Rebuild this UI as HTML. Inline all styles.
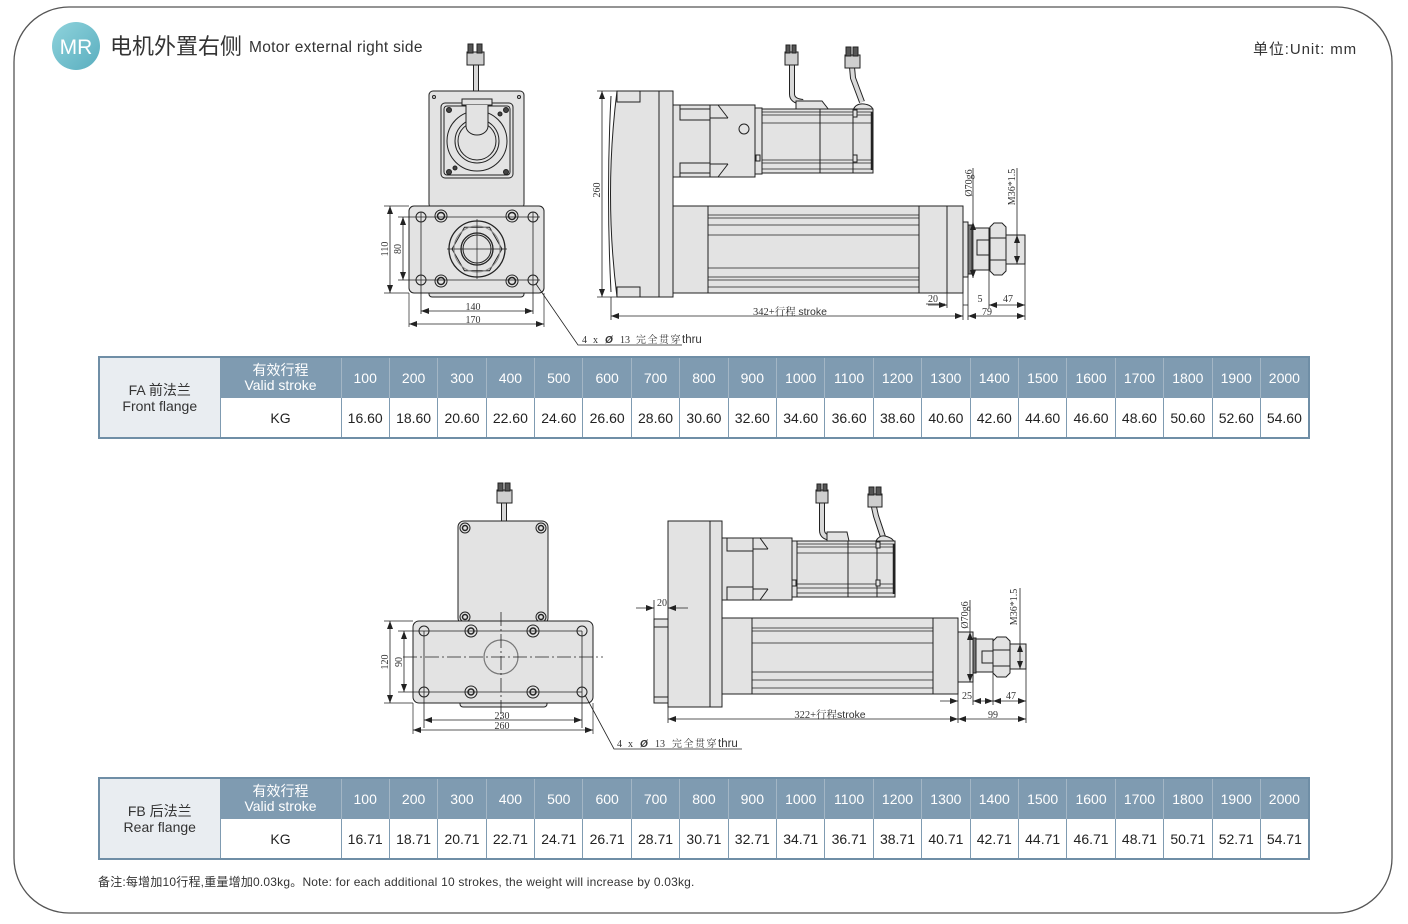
<!DOCTYPE html>
<html><head><meta charset="utf-8">
<style>
html,body{margin:0;padding:0;background:#fff;}
body{width:1408px;height:924px;position:relative;overflow:hidden;font-family:"Liberation Sans","Noto Sans CJK SC",sans-serif;color:#333;}
.abs{position:absolute;}
table.t{position:absolute;left:98px;width:1210px;border-collapse:collapse;table-layout:fixed;border:2px solid #6f8ea6;}
table.t td{padding:0;text-align:center;vertical-align:middle;overflow:hidden;white-space:nowrap;}
table.t tr.h td{background:#7f9bb1;color:#fff;height:39px;font-size:14px;border-left:1px solid #a3b6c5;}
table.t tr.d td{background:#fff;color:#222;height:39px;font-size:14px;border-left:1px solid #7f9bb1;border-top:1px solid #7f9bb1;}
table.t td.lab{background:#e9edf1 !important;color:#333 !important;font-size:13px;line-height:16px;border-right:1px solid #7f9bb1;}
table.t td.vs{font-size:13px;line-height:15px;}
</style></head><body>

<svg class="abs" style="left:0;top:0" width="1408" height="924" viewBox="0 0 1408 924">
<defs>
<marker id="a" viewBox="0 0 8 6" refX="8" refY="3" markerWidth="8" markerHeight="6" markerUnits="userSpaceOnUse" orient="auto-start-reverse"><path d="M0,0 L8,3 L0,6 z" fill="#222"/></marker>
<linearGradient id="g" x1="0" y1="0" x2="1" y2="1"><stop offset="0" stop-color="#8fd3dc"/><stop offset="1" stop-color="#5aaebf"/></linearGradient>
</defs>
<!-- frame -->
<rect x="14" y="7" width="1378" height="906" rx="55" ry="55" fill="none" stroke="#555" stroke-width="1.3"/>
<!-- header -->
<circle cx="76" cy="46" r="24" fill="url(#g)"/>
<text x="76" y="54" font-size="21" fill="#fff" text-anchor="middle" font-family="Liberation Sans, sans-serif">MR</text>
<text x="110" y="54" font-size="22" fill="#333" font-family="Liberation Sans, Noto Sans CJK SC, sans-serif">电机外置右侧</text>
<text x="249" y="52" font-size="15.5" letter-spacing="0.3" fill="#333" font-family="Liberation Sans, sans-serif">Motor external right side</text>
<text x="1253" y="54" font-size="15" letter-spacing="0.9" fill="#333" font-family="Liberation Sans, Noto Sans CJK SC, sans-serif">单位:Unit: mm</text>

<g stroke="#222" stroke-width="1" fill="#e3e3e3">
<!-- ===== TOP LEFT VIEW ===== -->
<path d="M476,64 V104" stroke="#222" stroke-width="6" fill="none"/>
<path d="M476,64 V104" stroke="#d8d8d8" stroke-width="4" fill="none"/>
<rect x="467" y="52" width="17" height="13" fill="#cfcfcf"/>
<rect x="468" y="44" width="5" height="9" fill="#555"/>
<rect x="477" y="44" width="5" height="9" fill="#555"/>
<rect x="429" y="91" width="95" height="117" rx="4"/>
<circle cx="434" cy="97" r="1.5" fill="none"/>
<circle cx="519" cy="97" r="1.5" fill="none"/>
<rect x="441" y="103" width="72" height="75" rx="4"/>
<rect x="444" y="106" width="66" height="69" rx="3"/>
<circle cx="477" cy="141" r="30"/>
<circle cx="477" cy="141" r="22"/>
<circle cx="477" cy="141" r="19"/>
<rect x="462" y="99" width="30" height="6"/>
<path d="M466,105 V126 A11,9 0 0 0 488,126 V105"/>
<circle cx="449" cy="110" r="2.5" fill="#444"/>
<circle cx="506" cy="110" r="2.5" fill="#444"/>
<circle cx="449" cy="172" r="2.5" fill="#444"/>
<circle cx="506" cy="172" r="2.5" fill="#444"/>
<circle cx="455" cy="168" r="2" fill="#444"/>
<circle cx="500" cy="114" r="2" fill="#444"/>
<rect x="429" y="288" width="95" height="9" rx="3"/>
<rect x="409" y="206" width="135" height="87" rx="5"/>
<g fill="none">
<circle cx="421" cy="217" r="5"/><circle cx="533" cy="217" r="5"/>
<circle cx="421" cy="280" r="5"/><circle cx="533" cy="280" r="5"/>
<circle cx="441" cy="216" r="6"/><circle cx="441" cy="216" r="3.5" stroke-width="1.5"/>
<circle cx="512" cy="216" r="6"/><circle cx="512" cy="216" r="3.5" stroke-width="1.5"/>
<circle cx="441" cy="281" r="6"/><circle cx="441" cy="281" r="3.5" stroke-width="1.5"/>
<circle cx="512" cy="281" r="6"/><circle cx="512" cy="281" r="3.5" stroke-width="1.5"/>
<circle cx="477" cy="249" r="28" stroke-width="1.3"/>
<polygon points="502,249 489.5,227.3 464.5,227.3 452,249 464.5,270.7 489.5,270.7"/>
<circle cx="477" cy="249" r="23" stroke="#888"/>
<circle cx="477" cy="249" r="16" stroke-width="1.3"/>
<circle cx="477" cy="249" r="14"/>
<path d="M447,249 H507 M477,219 V279" stroke-width="0.7"/>
<path d="M398,217 H540 M398,280 H540 M421,212 V314 M533,212 V314" stroke-width="0.8"/>
<path d="M384,206 H409 M384,293 H409 M409,293 V327 M544,293 V327" stroke-width="0.7"/>
</g>
<g fill="none" stroke-width="0.8">
<line x1="390" y1="206" x2="390" y2="293" marker-start="url(#a)" marker-end="url(#a)"/>
<line x1="403" y1="217" x2="403" y2="280" marker-start="url(#a)" marker-end="url(#a)"/>
<line x1="421" y1="311" x2="533" y2="311" marker-start="url(#a)" marker-end="url(#a)"/>
<line x1="409" y1="324" x2="544" y2="324" marker-start="url(#a)" marker-end="url(#a)"/>
<path d="M536,284 L578,345 H682"/>
</g>

<!-- ===== TOP RIGHT VIEW ===== -->
<path d="M792,64 V94 Q792,101 803,102" stroke="#222" stroke-width="6" fill="none"/>
<path d="M792,64 V94 Q792,101 803,102" stroke="#d8d8d8" stroke-width="4" fill="none"/>
<rect x="785" y="52" width="13" height="13" fill="#cfcfcf"/>
<rect x="786" y="45" width="4" height="8" fill="#555"/><rect x="792" y="45" width="4" height="8" fill="#555"/>
<path d="M852,67 L853,78 L862,102" stroke="#222" stroke-width="6" fill="none"/>
<path d="M852,67 L853,78 L862,102" stroke="#d8d8d8" stroke-width="4" fill="none"/>
<rect x="845" y="55" width="15" height="13" fill="#cfcfcf"/>
<rect x="846" y="47" width="5" height="9" fill="#555"/><rect x="853" y="47" width="5" height="9" fill="#555"/>
<path d="M796,110 V101 H822 L829,110 Z"/>
<path d="M853,110 Q856,103 864,104 Q872,105 873,110 Z"/>
<path d="M617,91 H673 V297 H617 Q604,194 617,91 Z"/>
<path d="M611,96 Q606,194 611,292" fill="none"/>
<line x1="659" y1="91" x2="659" y2="297"/>
<rect x="617" y="91" width="23" height="11"/>
<rect x="617" y="287" width="23" height="10"/>
<rect x="673" y="105" width="37" height="72"/>
<rect x="680" y="105" width="30" height="15"/>
<rect x="680" y="163" width="30" height="14"/>
<line x1="680" y1="109" x2="710" y2="109"/><line x1="680" y1="173" x2="710" y2="173"/>
<rect x="710" y="105" width="45" height="72"/>
<path d="M718,105 L728,118 M710,118 H728 M718,177 L728,164 M710,164 H728" fill="none"/>
<circle cx="744" cy="129" r="5" fill="none"/>
<rect x="755" y="108" width="7" height="66"/>
<rect x="762" y="109" width="111" height="64"/>
<path d="M762,112 H873 M762,115 H873 M762,123 H873 M762,160 H873 M762,163 H873 M762,169 H873" fill="none" stroke-width="0.8"/>
<path d="M820,109 V173 M853,109 V173" fill="none"/>
<line x1="872" y1="112" x2="872" y2="170" stroke-width="2.5"/>
<rect x="756" y="155" width="4" height="6"/><rect x="853" y="110" width="4" height="7"/><rect x="853" y="155" width="4" height="7"/>
<rect x="673" y="206" width="290" height="87"/>
<path d="M708,206 V293 M919,206 V293 M947,206 V293" fill="none"/>
<path d="M708,215 H919 M708,218 H919 M708,225 H919 M708,235 H919 M708,268 H919 M708,277 H919 M708,280 H919 M708,287 H919" fill="none" stroke-width="0.8"/>
<rect x="963" y="222" width="5" height="55"/>
<rect x="968" y="225" width="4" height="49" fill="#777"/>
<rect x="972" y="228" width="17" height="42"/>
<rect x="977" y="240" width="12" height="15"/>
<path d="M990,227 L994,223 H1002 L1006,227 V271 L1002,275 H994 L990,271 Z"/>
<path d="M990,238 H1006 M990,260 H1006" fill="none"/>
<rect x="1006" y="235" width="19" height="29"/>
<g fill="none" stroke-width="0.8">
<path d="M597,91 H617 M597,297 H617 M611,297 V320 M963,293 V320 M947,293 V308 M968,277 V320 M989,270 V308 M1025,264 V320 M973,168 V222 M1017,168 V235"/>
<line x1="602" y1="91" x2="602" y2="297" marker-start="url(#a)" marker-end="url(#a)"/>
<line x1="611" y1="316" x2="963" y2="316" marker-start="url(#a)" marker-end="url(#a)"/>
<line x1="968" y1="316" x2="1025" y2="316" marker-start="url(#a)" marker-end="url(#a)"/>
<line x1="928" y1="305" x2="947" y2="305" marker-end="url(#a)"/>
<line x1="963" y1="305" x2="968" y2="305"/>
<line x1="989" y1="305" x2="1025" y2="305" marker-start="url(#a)" marker-end="url(#a)"/>
<path d="M926,304 H945"/>
<line x1="973" y1="222" x2="973" y2="278" marker-start="url(#a)" marker-end="url(#a)"/>
<line x1="1017" y1="235" x2="1017" y2="264" marker-start="url(#a)" marker-end="url(#a)"/>
</g>

<!-- ===== BOTTOM LEFT VIEW ===== -->
<path d="M504,502 V522" stroke="#222" stroke-width="6" fill="none"/>
<path d="M504,502 V522" stroke="#d8d8d8" stroke-width="4" fill="none"/>
<rect x="497" y="490" width="15" height="13" fill="#cfcfcf"/>
<rect x="498" y="483" width="5" height="8" fill="#555"/><rect x="505" y="483" width="5" height="8" fill="#555"/>
<rect x="458" y="521" width="90" height="103" rx="6"/>
<g fill="none">
<circle cx="465" cy="528" r="5"/><circle cx="465" cy="528" r="2.5" stroke-width="1.5"/>
<circle cx="541" cy="528" r="5"/><circle cx="541" cy="528" r="2.5" stroke-width="1.5"/>
<circle cx="465" cy="617" r="5"/><circle cx="465" cy="617" r="2.5" stroke-width="1.5"/>
<circle cx="541" cy="617" r="5"/><circle cx="541" cy="617" r="2.5" stroke-width="1.5"/>
</g>
<rect x="460" y="698" width="87" height="9" rx="3"/>
<rect x="413" y="621" width="180" height="82" rx="6"/>
<g fill="none">
<path d="M424,631 H582 M424,692 H582 M424,631 V728 M582,631 V728" stroke-width="0.8"/>
<circle cx="424" cy="631" r="5"/><circle cx="582" cy="631" r="5"/>
<circle cx="424" cy="692" r="5"/><circle cx="582" cy="692" r="5"/>
<circle cx="471" cy="631" r="6"/><circle cx="471" cy="631" r="3" stroke-width="1.5"/>
<circle cx="533" cy="631" r="6"/><circle cx="533" cy="631" r="3" stroke-width="1.5"/>
<circle cx="471" cy="692" r="6"/><circle cx="471" cy="692" r="3" stroke-width="1.5"/>
<circle cx="533" cy="692" r="6"/><circle cx="533" cy="692" r="3" stroke-width="1.5"/>
<circle cx="501" cy="657" r="17" stroke="#777" stroke-width="1.2"/>
<path d="M403,657 H603 M501,612 V720" stroke-width="0.8" stroke-dasharray="14,3,2,3"/>
<path d="M384,621 H413 M384,703 H413 M398,631 H424 M398,692 H424 M413,703 V734 M593,703 V734" stroke-width="0.7"/>
</g>
<g fill="none" stroke-width="0.8">
<line x1="390" y1="621" x2="390" y2="703" marker-start="url(#a)" marker-end="url(#a)"/>
<line x1="404" y1="631" x2="404" y2="692" marker-start="url(#a)" marker-end="url(#a)"/>
<line x1="424" y1="720" x2="582" y2="720" marker-start="url(#a)" marker-end="url(#a)"/>
<line x1="413" y1="730" x2="593" y2="730" marker-start="url(#a)" marker-end="url(#a)"/>
<path d="M585,695 L614,749 H742"/>
</g>

<!-- ===== BOTTOM RIGHT VIEW ===== -->
<path d="M822,503 V530 Q822,537 831,538" stroke="#222" stroke-width="6" fill="none"/>
<path d="M822,503 V530 Q822,537 831,538" stroke="#d8d8d8" stroke-width="4" fill="none"/>
<rect x="816" y="490" width="12" height="13" fill="#cfcfcf"/>
<rect x="817" y="484" width="4" height="7" fill="#555"/><rect x="823" y="484" width="4" height="7" fill="#555"/>
<path d="M874,507 L876,516 L883,537" stroke="#222" stroke-width="6" fill="none"/>
<path d="M874,507 L876,516 L883,537" stroke="#d8d8d8" stroke-width="4" fill="none"/>
<rect x="868" y="494" width="14" height="13" fill="#cfcfcf"/>
<rect x="869" y="487" width="5" height="8" fill="#555"/><rect x="876" y="487" width="5" height="8" fill="#555"/>
<path d="M827,541 V532 H847 L849,541 Z"/>
<path d="M876,541 Q879,535 885,536 Q893,538 894,542 Z"/>
<rect x="654" y="619" width="14" height="84"/>
<path d="M654,627 H668 M654,697 H668" fill="none"/>
<rect x="668" y="521" width="54" height="186"/>
<line x1="710" y1="521" x2="710" y2="707"/>
<rect x="722" y="538" width="31" height="62"/>
<rect x="727" y="538" width="26" height="13"/>
<rect x="727" y="587" width="26" height="13"/>
<rect x="753" y="538" width="39" height="62"/>
<path d="M760,538 L768,549 M753,549 H768 M760,600 L768,589 M753,589 H768" fill="none"/>
<rect x="792" y="541" width="5" height="56"/>
<rect x="797" y="541" width="98" height="56"/>
<path d="M797,544 H895 M797,547 H895 M797,553 H895 M797,584 H895 M797,588 H895 M797,593 H895" fill="none" stroke-width="0.8"/>
<path d="M848,541 V597 M877,541 V597" fill="none"/>
<line x1="894" y1="544" x2="894" y2="594" stroke-width="2.5"/>
<rect x="792" y="580" width="4" height="6"/><rect x="876" y="542" width="4" height="6"/><rect x="876" y="580" width="4" height="6"/>
<rect x="722" y="618" width="236" height="76"/>
<path d="M752,618 V694 M933,618 V694" fill="none"/>
<path d="M752,628 H933 M752,631 H933 M752,643 H933 M752,672 H933 M752,680 H933 M752,688 H933" fill="none" stroke-width="0.8"/>
<rect x="958" y="632" width="15" height="50"/>
<rect x="973" y="638" width="3" height="35" fill="#777"/>
<rect x="976" y="639" width="17" height="33"/>
<rect x="982" y="651" width="11" height="12"/>
<path d="M993,641 L997,637 H1006 L1010,641 V673 L1006,677 H997 L993,673 Z"/>
<path d="M993,650 H1010 M993,666 H1010" fill="none"/>
<rect x="1010" y="644" width="16" height="25"/>
<g fill="none" stroke-width="0.8">
<path d="M654,600 V619 M668,600 V619 M668,707 V723 M958,694 V723 M973,682 V705 M993,673 V705 M1026,669 V723 M970,600 V632 M1020,588 V644"/>
<line x1="636" y1="608" x2="654" y2="608" marker-end="url(#a)"/>
<line x1="688" y1="608" x2="668" y2="608" marker-end="url(#a)"/>
<line x1="668" y1="719" x2="958" y2="719" marker-start="url(#a)" marker-end="url(#a)"/>
<line x1="958" y1="719" x2="1026" y2="719" marker-start="url(#a)" marker-end="url(#a)"/>
<line x1="940" y1="701" x2="958" y2="701" marker-end="url(#a)"/>
<line x1="973" y1="701" x2="993" y2="701" marker-start="url(#a)" marker-end="url(#a)"/>
<line x1="993" y1="701" x2="1026" y2="701" marker-start="url(#a)" marker-end="url(#a)"/>
<line x1="970" y1="632" x2="970" y2="682" marker-start="url(#a)" marker-end="url(#a)"/>
<line x1="1020" y1="644" x2="1020" y2="669" marker-start="url(#a)" marker-end="url(#a)"/>
</g>
</g>

<!-- dimension labels -->
<g font-family="Liberation Serif, Noto Serif CJK SC, serif" font-size="10" fill="#333">
<text transform="translate(388,249) rotate(-90)" text-anchor="middle">110</text>
<text transform="translate(401,249) rotate(-90)" text-anchor="middle">80</text>
<text x="473" y="310" text-anchor="middle">140</text>
<text x="473" y="323" text-anchor="middle">170</text>
<text y="343" font-size="10"><tspan x="582">4</tspan><tspan x="593">x</tspan><tspan x="605" font-family="Liberation Sans, sans-serif" font-weight="bold" font-style="italic">Ø</tspan><tspan x="620">13</tspan><tspan x="636" letter-spacing="1.5">完全贯穿</tspan><tspan font-family="Liberation Sans, sans-serif" font-size="11.5">thru</tspan></text>
<text transform="translate(600,190) rotate(-90)" text-anchor="middle">260</text>
<text x="790" y="315" text-anchor="middle" font-size="10.5">342+行程 <tspan font-family="Liberation Sans, sans-serif">stroke</tspan></text>
<text x="933" y="302" text-anchor="middle">20</text>
<text x="980" y="302" text-anchor="middle">5</text>
<text x="1008" y="302" text-anchor="middle">47</text>
<text x="987" y="315" text-anchor="middle">79</text>
<text transform="translate(972,183) rotate(-90)" text-anchor="middle" font-size="10">Ø70g6</text>
<text transform="translate(1015,187) rotate(-90)" text-anchor="middle" font-size="10">M36*1.5</text>

<text transform="translate(388,662) rotate(-90)" text-anchor="middle">120</text>
<text transform="translate(402,662) rotate(-90)" text-anchor="middle">90</text>
<text x="502" y="719" text-anchor="middle">230</text>
<text x="502" y="729" text-anchor="middle">260</text>
<text y="747" font-size="10"><tspan x="617">4</tspan><tspan x="628">x</tspan><tspan x="640" font-family="Liberation Sans, sans-serif" font-weight="bold" font-style="italic">Ø</tspan><tspan x="655">13</tspan><tspan x="672" letter-spacing="1.5">完全贯穿</tspan><tspan font-family="Liberation Sans, sans-serif" font-size="11.5">thru</tspan></text>
<text x="662" y="606" text-anchor="middle">20</text>
<text x="830" y="718" text-anchor="middle" font-size="10.5">322+行程<tspan font-family="Liberation Sans, sans-serif">stroke</tspan></text>
<text x="967" y="699" text-anchor="middle">25</text>
<text x="1011" y="699" text-anchor="middle">47</text>
<text x="993" y="718" text-anchor="middle">99</text>
<text transform="translate(968,615) rotate(-90)" text-anchor="middle" font-size="10">Ø70g6</text>
<text transform="translate(1017,607) rotate(-90)" text-anchor="middle" font-size="10">M36*1.5</text>
</g>
</svg>

<table class="t" style="top:356px">
<colgroup><col style="width:121px"><col style="width:121px"><col span="20" style="width:48.4px"></colgroup>
<tr class="h"><td rowspan="2" class="lab">FA 前法兰<br>Front flange</td><td class="vs">有效行程<br>Valid stroke</td><td>100</td><td>200</td><td>300</td><td>400</td><td>500</td><td>600</td><td>700</td><td>800</td><td>900</td><td>1000</td><td>1100</td><td>1200</td><td>1300</td><td>1400</td><td>1500</td><td>1600</td><td>1700</td><td>1800</td><td>1900</td><td>2000</td></tr>
<tr class="d"><td>KG</td><td>16.60</td><td>18.60</td><td>20.60</td><td>22.60</td><td>24.60</td><td>26.60</td><td>28.60</td><td>30.60</td><td>32.60</td><td>34.60</td><td>36.60</td><td>38.60</td><td>40.60</td><td>42.60</td><td>44.60</td><td>46.60</td><td>48.60</td><td>50.60</td><td>52.60</td><td>54.60</td></tr>
</table>

<table class="t" style="top:777px">
<colgroup><col style="width:121px"><col style="width:121px"><col span="20" style="width:48.4px"></colgroup>
<tr class="h"><td rowspan="2" class="lab">FB 后法兰<br>Rear flange</td><td class="vs">有效行程<br>Valid stroke</td><td>100</td><td>200</td><td>300</td><td>400</td><td>500</td><td>600</td><td>700</td><td>800</td><td>900</td><td>1000</td><td>1100</td><td>1200</td><td>1300</td><td>1400</td><td>1500</td><td>1600</td><td>1700</td><td>1800</td><td>1900</td><td>2000</td></tr>
<tr class="d"><td>KG</td><td>16.71</td><td>18.71</td><td>20.71</td><td>22.71</td><td>24.71</td><td>26.71</td><td>28.71</td><td>30.71</td><td>32.71</td><td>34.71</td><td>36.71</td><td>38.71</td><td>40.71</td><td>42.71</td><td>44.71</td><td>46.71</td><td>48.71</td><td>50.71</td><td>52.71</td><td>54.71</td></tr>
</table>

<div class="abs" style="left:98px;top:873px;font-size:12px;letter-spacing:0.2px;color:#333;white-space:nowrap;">备注:每增加10行程,重量增加0.03kg。Note: for each additional 10 strokes, the weight will increase by 0.03kg.</div>

</body></html>
